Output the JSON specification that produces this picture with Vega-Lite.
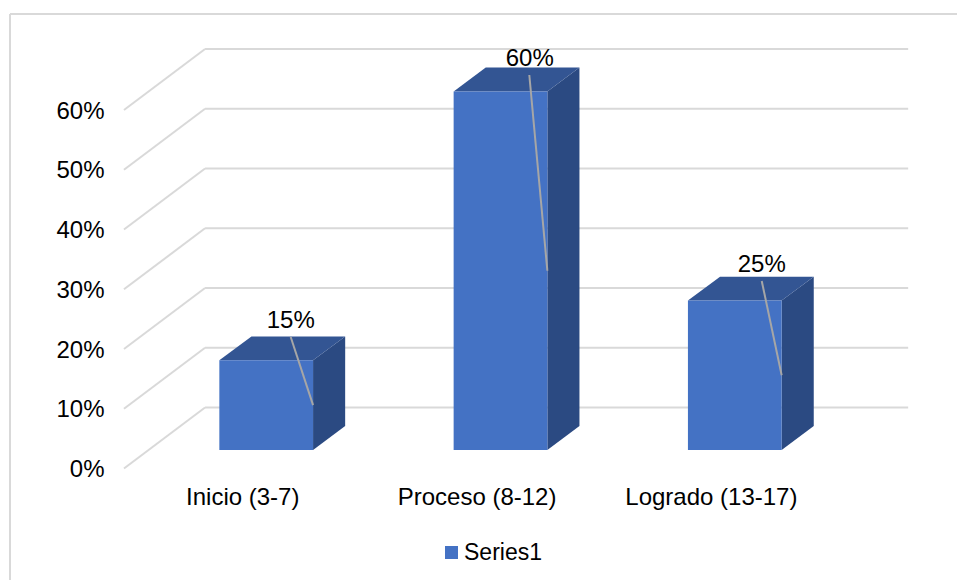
{
  "$schema": "https://vega.github.io/schema/vega-lite/v6.json",
  "width": 947,
  "height": 566,
  "padding": {"left": 10, "top": 14, "right": 0, "bottom": 0},
  "autosize": "none",
  "background": "white",
  "view": {"stroke": null},
  "config": {"font": "Liberation Sans"},
  "data": {
    "values": [
      {"Category": "Inicio (3-7)", "value": 0.15, "series": "Series1"},
      {"Category": "Proceso (8-12)", "value": 0.60, "series": "Series1"},
      {"Category": "Logrado (13-17)", "value": 0.25, "series": "Series1"}
    ]
  },
  "transform": [
    {"calculate": "indexof(['Inicio (3-7)','Proceso (8-12)','Logrado (13-17)'], datum.Category)", "as": "slot"}
  ],
  "encoding": {
    "x": {"field": "px", "type": "quantitative", "axis": null, "scale": {"domain": [-1.0935, 2.9484], "nice": false, "zero": false}},
    "y": {
      "field": "py",
      "type": "quantitative",
      "scale": {"domain": [-0.1866, 0.7607], "nice": false, "zero": false},
      "axis": {
        "title": null,
        "values": [0, 0.1, 0.2, 0.3, 0.4, 0.5, 0.6],
        "format": ".0%",
        "domain": false,
        "ticks": false,
        "grid": false,
        "offset": -94,
        "labelPadding": 0,
        "labelFontSize": 24,
        "labelColor": "#000000",
        "labelFont": "Liberation Sans",
        "labelOffset": 1
      }
    }
  },
  "layer": [
    {
      "data": {"values": [{"edge": "frame left"}]},
      "transform": [
        {"calculate": "-1.0935", "as": "px"},
        {"calculate": "-0.1866", "as": "py"},
        {"calculate": "0.7607", "as": "py2"}
      ],
      "mark": {"type": "rule", "color": "#D9D9D9", "strokeWidth": 2},
      "encoding": {"y2": {"field": "py2"}}
    },
    {
      "data": {"values": [{"edge": "frame top"}]},
      "transform": [
        {"calculate": "-1.0935", "as": "px"},
        {"calculate": "2.9484", "as": "px2"},
        {"calculate": "0.7607", "as": "py"}
      ],
      "mark": {"type": "rule", "color": "#D9D9D9", "strokeWidth": 2},
      "encoding": {"x2": {"field": "px2"}}
    },
    {
      "data": {"values": [{"tick": 0}, {"tick": 0.1}, {"tick": 0.2}, {"tick": 0.3}, {"tick": 0.4}, {"tick": 0.5}, {"tick": 0.6}]},
      "transform": [
        {"calculate": "-0.607", "as": "px"},
        {"calculate": "-0.261", "as": "px2"},
        {"calculate": "datum.tick", "as": "py"},
        {"calculate": "datum.tick + 0.102", "as": "py2"}
      ],
      "mark": {"type": "rule", "color": "#D9D9D9", "strokeWidth": 2},
      "encoding": {
        "x2": {"field": "px2"},
        "y2": {"field": "py2"}
      }
    },
    {
      "data": {"values": [{"tick": 0}, {"tick": 0.1}, {"tick": 0.2}, {"tick": 0.3}, {"tick": 0.4}, {"tick": 0.5}, {"tick": 0.6}]},
      "transform": [
        {"calculate": "-0.261", "as": "px"},
        {"calculate": "2.74", "as": "px2"},
        {"calculate": "datum.tick + 0.102", "as": "py"}
      ],
      "mark": {"type": "rule", "color": "#D9D9D9", "strokeWidth": 2},
      "encoding": {
        "x2": {"field": "px2"}
      }
    },
    {
      "transform": [
        {"calculate": "[0, 1]", "as": "depth"},
        {"flatten": ["depth"]},
        {"calculate": "datum.slot + 0.2 + datum.depth * 0.137", "as": "px"},
        {"calculate": "0.031 + datum.depth * 0.04", "as": "py"},
        {"calculate": "0.031 + datum.value + datum.depth * 0.04", "as": "py2"}
      ],
      "mark": {"type": "area", "color": "#2B4A82", "line": false, "interpolate": "linear"},
      "encoding": {
        "y2": {"field": "py2"},
        "detail": {"field": "Category"}
      }
    },
    {
      "transform": [
        {"calculate": "[0, 1]", "as": "depth"},
        {"flatten": ["depth"]},
        {"calculate": "datum.slot - 0.2 + datum.depth * 0.137", "as": "px"},
        {"calculate": "datum.slot + 0.2 + datum.depth * 0.137", "as": "px2"},
        {"calculate": "0.031 + datum.value + datum.depth * 0.04", "as": "py"}
      ],
      "mark": {"type": "area", "color": "#335593", "orient": "horizontal"},
      "encoding": {
        "x2": {"field": "px2"},
        "detail": {"field": "Category"}
      }
    },
    {
      "transform": [
        {"calculate": "datum.slot - 0.2", "as": "px"},
        {"calculate": "datum.slot + 0.2", "as": "px2"},
        {"calculate": "0.031", "as": "py"},
        {"calculate": "0.031 + datum.value", "as": "py2"}
      ],
      "mark": {"type": "rect"},
      "encoding": {
        "x2": {"field": "px2"},
        "y2": {"field": "py2"},
        "color": {
          "field": "series",
          "type": "nominal",
          "scale": {"domain": ["Series1"], "range": ["#4472C4"]},
          "legend": {
            "title": null,
            "orient": "none",
            "legendX": 430,
            "legendY": 527,
            "symbolType": "square",
            "symbolSize": 169,
            "symbolStrokeWidth": 0,
            "labelFontSize": 23,
            "labelColor": "#000000",
            "labelFont": "Liberation Sans",
            "labelOffset": 1,
            "padding": 0
          }
        }
      }
    },
    {
      "transform": [
        {"calculate": "datum.slot + [0.1046, 0.123, 0.115][datum.slot]", "as": "px"},
        {"calculate": "datum.slot + 0.2", "as": "px2"},
        {"calculate": "0.031 + datum.value + [0.039, 0.0276, 0.0328][datum.slot]", "as": "py"},
        {"calculate": "0.031 + datum.value / 2", "as": "py2"}
      ],
      "mark": {"type": "rule", "color": "#A6A6A6", "strokeWidth": 2},
      "encoding": {
        "x2": {"field": "px2"},
        "y2": {"field": "py2"}
      }
    },
    {
      "transform": [
        {"calculate": "datum.slot + [0.1046, 0.125, 0.115][datum.slot]", "as": "px"},
        {"calculate": "0.031 + datum.value + [0.0655, 0.0541, 0.0593][datum.slot]", "as": "py"}
      ],
      "mark": {"type": "text", "fontSize": 24, "font": "Liberation Sans", "color": "#000000", "baseline": "middle", "align": "center"},
      "encoding": {
        "text": {"field": "value", "type": "quantitative", "format": ".0%"}
      }
    },
    {
      "transform": [
        {"calculate": "datum.slot - 0.1", "as": "px"},
        {"calculate": "-0.05", "as": "py"}
      ],
      "mark": {"type": "text", "fontSize": 24, "font": "Liberation Sans", "color": "#000000", "baseline": "middle", "align": "center"},
      "encoding": {
        "text": {"field": "Category", "type": "nominal"}
      }
    }
  ]
}
